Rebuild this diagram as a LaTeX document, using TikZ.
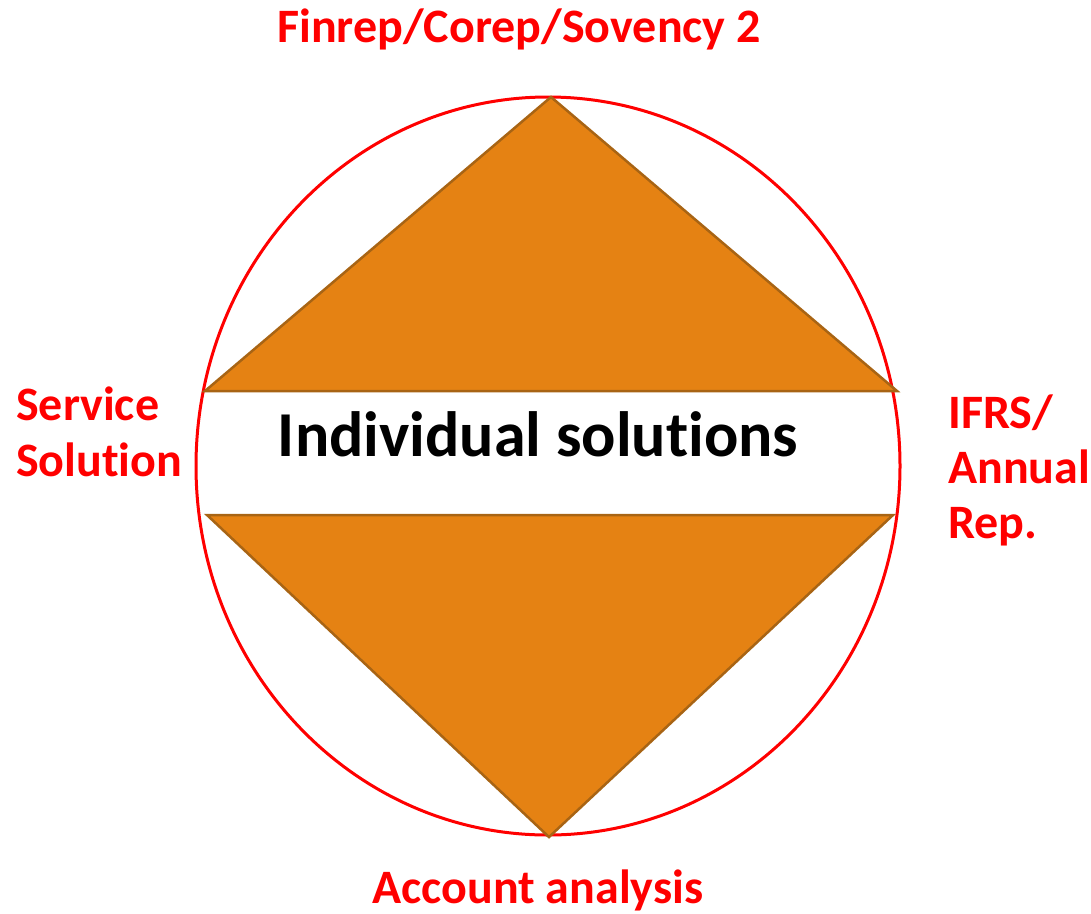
\documentclass[tikz,border=0pt]{standalone}
\usepackage{fontspec}
\setmainfont[Ligatures=NoCommon]{Carlito}
\newcommand{\noligt}{t\kern0pt i}
\definecolor{tri}{RGB}{229,130,19}
\definecolor{triedge}{RGB}{168,100,20}
\definecolor{lbl}{RGB}{255,0,0}
\begin{document}
\begin{tikzpicture}[x=1pt,y=-1pt,
  tri/.style={fill=tri,draw=triedge,line width=2.5pt,line join=miter},
  redlbl/.style={text=lbl,font=\fontsize{48}{56}\selectfont\bfseries,inner sep=0pt},
  mainlbl/.style={text=black,font=\fontsize{64}{76}\selectfont\bfseries,inner sep=0pt}]
\useasboundingbox (0,0) rectangle (1091,913);
\draw[red,line width=3pt] (548,466) ellipse [x radius=352,y radius=369];
\draw[tri] (551,97) -- (897,391) -- (205,391) -- cycle;
\draw[tri] (207,515) -- (893,515) -- (549,837) -- cycle;
\node[mainlbl,anchor=base] (main) at (538,456) {Individual solu\noligt ons};
\node[redlbl,anchor=base] (top) at (519,42) {Finrep/Corep/Sovency 2};
\node[redlbl,anchor=base] (bottom) at (538,903) {Account analysis};
\node[redlbl,anchor=base west] (left1) at (16,420) {Service};
\node[redlbl,anchor=base west] (left2) at (16,476) {Solu\noligt on};
\node[redlbl,anchor=base west] (right1) at (948,428) {IFRS/};
\node[redlbl,anchor=base west] (right2) at (948,483) {Annual};
\node[redlbl,anchor=base west] (right3) at (948,538) {Rep.};
\end{tikzpicture}
\end{document}
